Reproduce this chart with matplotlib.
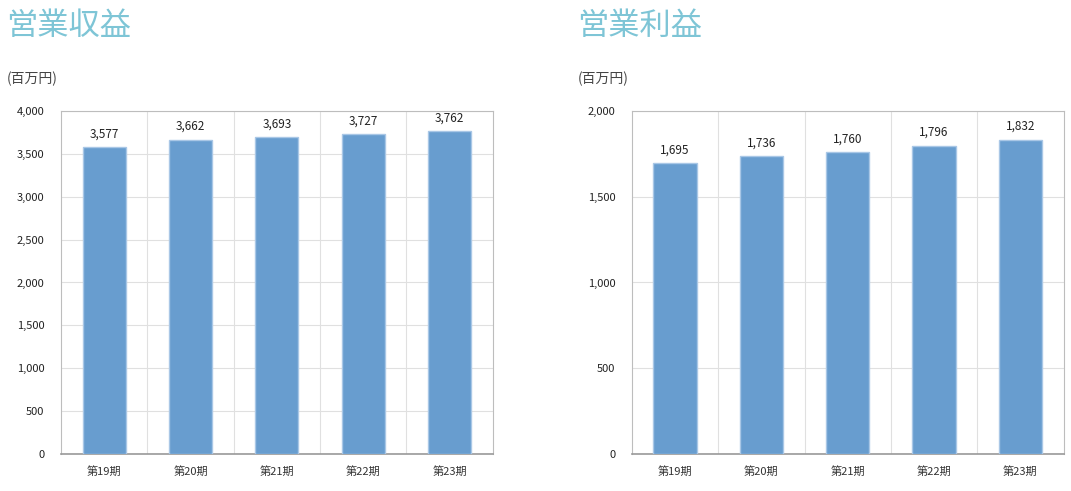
import matplotlib.pyplot as plt
from matplotlib.ticker import FuncFormatter, MultipleLocator

plt.rcParams['font.family'] = ['Noto Sans CJK JP', 'DejaVu Sans']

periods = ["第19期", "第20期", "第21期", "第22期", "第23期"]
revenue = [3577, 3662, 3693, 3727, 3762]
profit = [1695, 1736, 1760, 1796, 1832]

BAR_COLOR = "#689dcf"
EDGE_COLOR = "#a9c7e6"
TITLE_COLOR = "#7ec5d6"


def draw_panel(fig, rect, title, values, ymax, step):
    ax = fig.add_axes(rect)
    x = range(len(periods))
    bars = ax.bar(x, values, width=0.5, color=BAR_COLOR, edgecolor=EDGE_COLOR,
                  linewidth=1.0, zorder=3)
    for b, v in zip(bars, values):
        ax.annotate(f"{v:,}", (b.get_x() + b.get_width() / 2, v),
                    xytext=(0, 5), textcoords="offset points",
                    ha="center", va="bottom", fontsize=8.5, color="#222222")

    ax.set_xlim(-0.5, len(periods) - 0.5)
    ax.set_ylim(0, ymax)
    ax.yaxis.set_major_locator(MultipleLocator(step))
    ax.yaxis.set_major_formatter(FuncFormatter(lambda v, _: f"{int(v):,}"))
    ax.set_xticks(list(x))
    ax.set_xticklabels(periods, fontsize=8, color="#333333")
    ax.tick_params(axis="y", labelsize=8, colors="#222222", length=0, pad=12)
    ax.tick_params(axis="x", length=0, pad=9)

    # grid: horizontal at ticks, vertical at category boundaries
    ax.grid(axis="y", color="#e0e0e0", linewidth=0.8, zorder=0)
    for b in range(1, len(periods)):
        ax.axvline(b - 0.5, color="#e0e0e0", linewidth=0.8, zorder=0)

    for side in ("top", "right", "left"):
        ax.spines[side].set_color("#bdbdbd")
        ax.spines[side].set_linewidth(0.8)
    ax.spines["bottom"].set_color("#999999")
    ax.spines["bottom"].set_linewidth(1.2)

    x0 = rect[0] - 0.051
    fig.text(x0, 0.948, title, fontsize=22.5, color=TITLE_COLOR, va="center", ha="left")
    fig.text(x0, 0.84, "(百万円)", fontsize=10, color="#444444", va="center", ha="left")
    return ax


fig = plt.figure(figsize=(10.71, 4.91), dpi=100)
draw_panel(fig, [0.057, 0.0754, 0.403, 0.6986], "営業収益", revenue, 4000, 500)
draw_panel(fig, [0.590, 0.0754, 0.403, 0.6986], "営業利益", profit, 2000, 500)

fig.savefig("out.png", dpi=100, facecolor="white")
